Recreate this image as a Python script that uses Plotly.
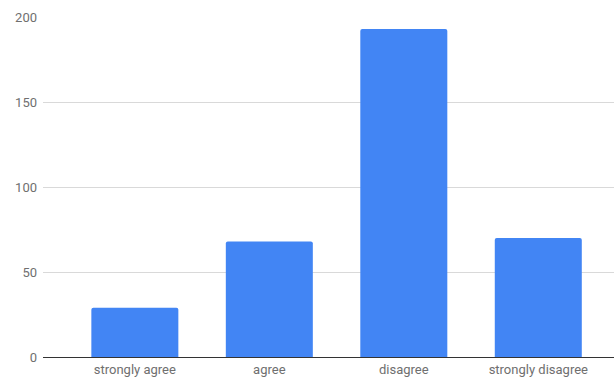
import plotly.graph_objects as go

# Survey responses
categories = ["strongly agree", "agree", "disagree", "strongly disagree"]
counts = [29, 68, 193, 70]
y_ticks = [0, 50, 100, 150, 200]

fig = go.Figure(
    go.Bar(
        x=list(range(len(categories))),
        y=counts,
        marker=dict(color="#4285F4", line=dict(width=0), cornerradius=2),
        width=0.647,
        hoverinfo="skip",
    )
)

fig.update_layout(
    width=616,
    height=381,
    margin=dict(l=43, r=2, t=16.7, b=24.3),
    paper_bgcolor="white",
    plot_bgcolor="white",
    showlegend=False,
    font=dict(family="Roboto, Arial, sans-serif", size=13, color="#6f6f6f"),
    xaxis=dict(
        range=[-0.683, 3.563],
        tickmode="array",
        tickvals=list(range(len(categories))),
        ticktext=categories,
        showgrid=False,
        zeroline=False,
        showline=True,
        linecolor="#333333",
        linewidth=1,
        ticks="",
        tickfont=dict(size=13, color="#6f6f6f"),
        fixedrange=True,
    ),
    yaxis=dict(
        range=[0, 200],
        tickmode="array",
        tickvals=y_ticks,
        ticktext=[str(v) for v in y_ticks],
        showgrid=True,
        gridcolor="#d9d9d9",
        gridwidth=1,
        zeroline=False,
        showline=False,
        ticks="",
        ticklabelstandoff=5,
        tickfont=dict(size=13, color="#6f6f6f"),
        fixedrange=True,
    ),
)

fig.write_html("out.html", config={"displayModeBar": False})
